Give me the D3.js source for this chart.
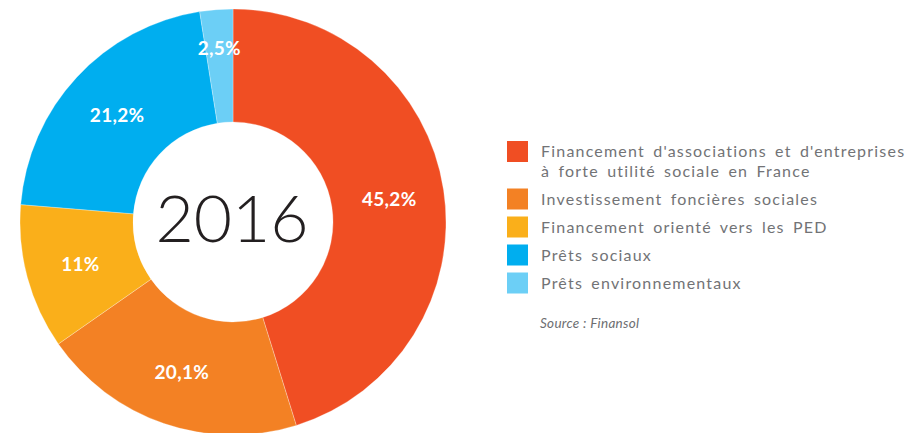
<!DOCTYPE html>
<html>
<head>
<meta charset="utf-8">
<script src="https://cdn.jsdelivr.net/npm/d3@7"></script>
<style>
  html, body { margin: 0; padding: 0; background: #fff; }
  svg { display: block; }
</style>
</head>
<body>
<svg id="chart" width="918" height="433"></svg>
<script>
// Répartition des encours solidaires, 2016
const categories = [
  "Financement d'associations et d'entreprises|à forte utilité sociale en France",
  "Investissement foncières sociales",
  "Financement orienté vers les PED",
  "Prêts sociaux",
  "Prêts environnementaux"
];
const values = [45.2, 20.1, 11, 21.2, 2.5];
const valueLabels = ["45,2%", "20,1%", "11%", "21,2%", "2,5%"];
const colors = ["#F04E23", "#F38124", "#FAAF1A", "#00AEEF", "#6CCFF6"];
const centerTitle = "2016";
const sourceText = "Source : Finansol";

const svg = d3.select("#chart");
const cx = 233, cy = 222;
const outerR = 213, innerR = 100;

const pie = d3.pie().sort(null).value(d => d)(values);
const arc = d3.arc().innerRadius(innerR).outerRadius(outerR);

const g = svg.append("g").attr("transform", `translate(${cx},${cy})`);

g.selectAll("path.slice")
  .data(pie)
  .join("path")
  .attr("class", "slice")
  .attr("d", arc)
  .attr("fill", (d, i) => colors[i])
  .attr("stroke", "#fff")
  .attr("stroke-opacity", 0.35)
  .attr("stroke-width", 0.8);

// labels sit at a common radius; the thin slice gets pushed outward
const labelArc = d3.arc().innerRadius(158).outerRadius(158);
const smallArc = d3.arc().innerRadius(175).outerRadius(175);
g.selectAll("text.val")
  .data(pie)
  .join("text")
  .attr("class", "val")
  .attr("transform", d => {
    const p = (d.data < 5 ? smallArc : labelArc).centroid(d);
    return `translate(${p[0]},${p[1]})`;
  })
  .attr("text-anchor", "middle")
  .attr("dominant-baseline", "central")
  .attr("fill", "#fff")
  .attr("font-family", "Lato, sans-serif")
  .attr("font-weight", 700)
  .attr("font-size", 19)
  .attr("letter-spacing", 0.3)
  .text((d, i) => valueLabels[i]);

g.append("text")
  .attr("text-anchor", "middle")
  .attr("x", -1)
  .attr("y", 20)
  .attr("fill", "#231f20")
  .attr("font-family", "Lato, sans-serif")
  .attr("font-weight", 300)
  .attr("font-size", 66)
  .text(centerTitle);

// legend
const legendX = 507, legendTop = 141, sw = 21, lineH = 19.5, gap = 28;
let y = legendTop;
const legend = svg.append("g");
categories.forEach((c, i) => {
  const lines = c.split("|");
  legend.append("rect")
    .attr("x", legendX).attr("y", y)
    .attr("width", sw).attr("height", sw)
    .attr("fill", colors[i]);
  lines.forEach((ln, j) => {
    legend.append("text")
      .attr("x", legendX + 34)
      .attr("y", y + 16 + j * lineH)
      .attr("fill", "#727376")
      .attr("font-family", "Lato, sans-serif")
      .attr("font-size", 16)
      .attr("letter-spacing", 1.2)
      .attr("word-spacing", 3)
      .text(ln);
  });
  y += gap + (lines.length - 1) * lineH;
});

svg.append("text")
  .attr("x", legendX + 33)
  .attr("y", 328)
  .attr("fill", "#6d6e71")
  .attr("font-family", "Lato, sans-serif")
  .attr("font-style", "italic")
  .attr("font-size", 13.5)
  .attr("letter-spacing", 0.3)
  .text(sourceText);
</script>
</body>
</html>
